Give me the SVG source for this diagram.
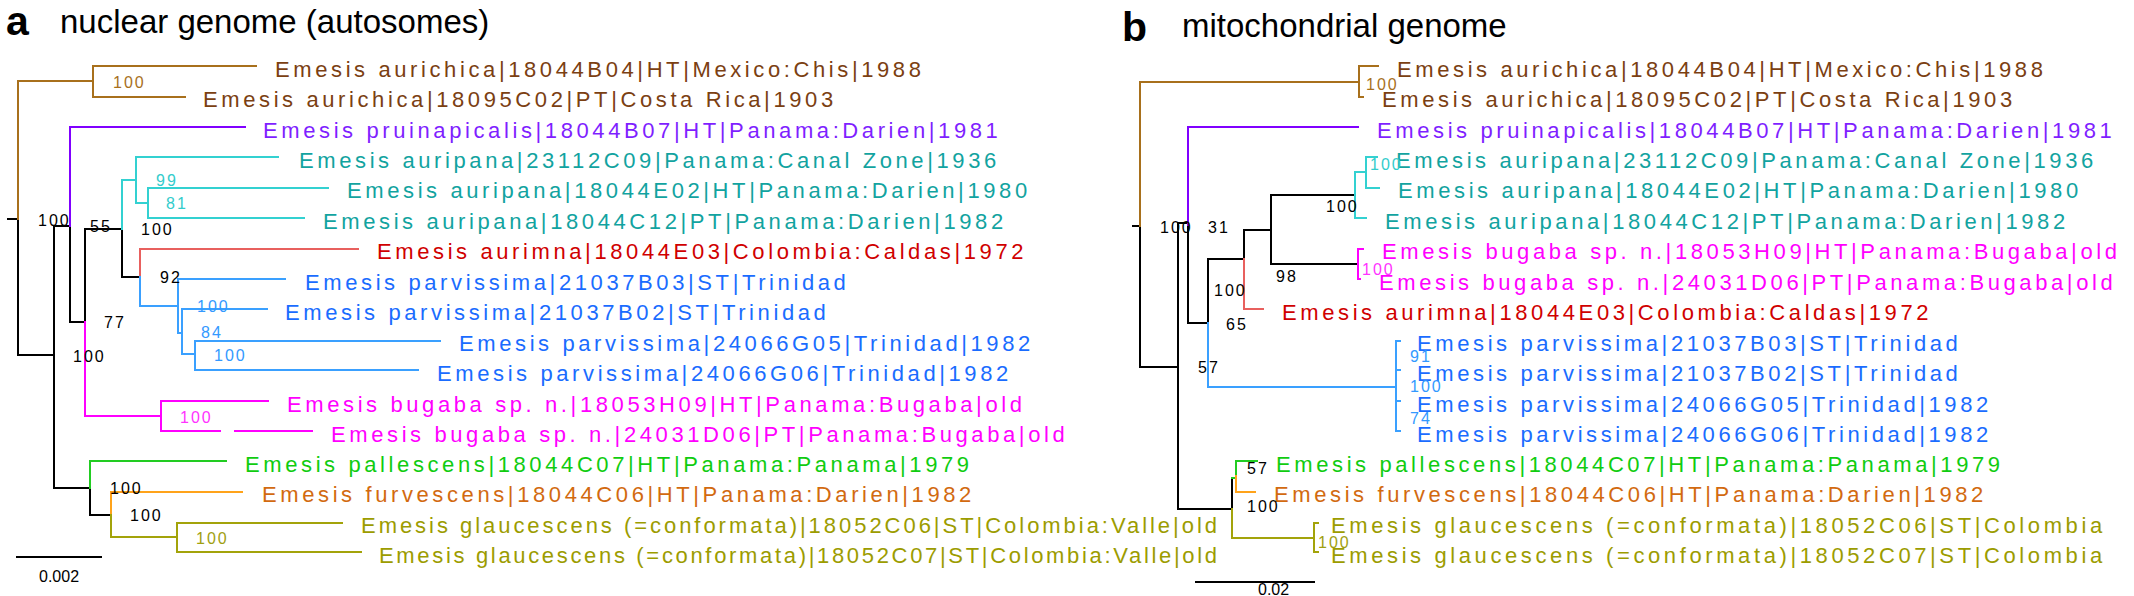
<svg xmlns="http://www.w3.org/2000/svg" width="2134" height="596" viewBox="0 0 2134 596">
<style>
text{font-family:"Liberation Sans",Arial,sans-serif}
.lab{font-size:22px;letter-spacing:3.6px}
.num{font-size:16px;letter-spacing:2px}
.title{font-size:33px;fill:#000}
.big{font-size:41px;font-weight:bold;fill:#000}
.s{fill:none;stroke-width:2;stroke-linecap:square}
.k{stroke:#000}
.br{stroke:#A8701C}.pu{stroke:#8000FF}.cy{stroke:#33D1D1}.rd{stroke:#E8605E}.bl{stroke:#3AA0FF}.mg{stroke:#FF00FF}.gn{stroke:#22CC22}.or{stroke:#FFA31A}.ol{stroke:#A3A30A}
.tbr{fill:#7B4012}.tpu{fill:#7F1FFF}.ttl{fill:#12A3A0}.trd{fill:#D00000}.tbl{fill:#1A6CFF}.tmg{fill:#FF00FF}.tgn{fill:#10CC10}.tor{fill:#D26A10}.tol{fill:#9C9C00}
.nk{fill:#000}.nbr{fill:#A8701C}.ncy{fill:#33CCCC}.nbl{fill:#3399FF}.nmg{fill:#FF33FF}.nol{fill:#A0A010}
</style>
<text class="big" x="6" y="35">a</text>
<text class="title" x="60" y="33">nuclear genome (autosomes)</text>
<text class="big" x="1122" y="41">b</text>
<text class="title" x="1182" y="37">mitochondrial genome</text>
<g id="connectors-a">
<path class="s k" d="M8,219H18V355H54M54,226V488M54,226H70V322M70,322H85V229M85,229H122V277H140M54,488H90V515H111"/>
<path class="s br" d="M18,219V81H93M93,66V97M93,66H256M93,97H185"/>
<path class="s pu" d="M70,226V127H245"/>
<path class="s cy" d="M122,229V180H136M136,157V203M136,157H278M136,203H148M148,188V218M148,188H328M148,218H304"/>
<path class="s rd" d="M140,277V249H358"/>
<path class="s bl" d="M140,277V306H178M178,279V333M178,279H285M178,333H182M182,309V354M182,309H267M182,354H195M195,341V370M195,341H440M195,370H418"/>
<path class="s mg" d="M85,322V416H161M161,401V431M161,401H268M161,431H220M235,431H312"/>
<path class="s gn" d="M90,488V461H226"/>
<path class="s or" d="M111,515V492H242"/>
<path class="s ol" d="M111,515V537H177M177,523V552M177,523H342M177,552H361"/>
<path class="s k" d="M17,557H101"/>
</g>
<g id="connectors-b">
<path class="s k" d="M1133,226H1140V367H1178M1178,223V509M1178,223H1188M1188,225V323H1208V259M1208,259H1244M1244,230V259M1244,230H1271M1271,195V264M1271,195H1355M1271,264H1358M1178,509H1232V478"/>
<path class="s br" d="M1140,226V82H1359M1359,66V97M1359,66H1378M1359,97H1363"/>
<path class="s pu" d="M1188,225V127H1358"/>
<path class="s cy" d="M1355,172V218M1355,172H1366M1355,218H1366M1366,157V188M1366,157H1377M1366,188H1379"/>
<path class="s rd" d="M1244,259V309H1263"/>
<path class="s mg" d="M1358,249V279M1358,249H1363M1358,279H1360"/>
<path class="s bl" d="M1208,323V387H1396M1396,341V431M1396,341H1400M1396,370H1400M1396,401H1400M1396,431H1400"/>
<path class="s gn" d="M1232,478H1236V461H1257"/>
<path class="s or" d="M1236,476V492H1255"/>
<path class="s ol" d="M1232,509V538H1314M1314,523V552M1314,523H1318M1314,552H1318"/>
<path class="s k" d="M1196,582H1314"/>
</g>
<g id="labels-a">
<text class="lab tbr" x="275" y="77">Emesis aurichica|18044B04|HT|Mexico:Chis|1988</text>
<text class="lab tbr" x="203" y="107">Emesis aurichica|18095C02|PT|Costa Rica|1903</text>
<text class="lab tpu" x="263" y="138">Emesis pruinapicalis|18044B07|HT|Panama:Darien|1981</text>
<text class="lab ttl" x="299" y="168">Emesis auripana|23112C09|Panama:Canal Zone|1936</text>
<text class="lab ttl" x="347" y="198">Emesis auripana|18044E02|HT|Panama:Darien|1980</text>
<text class="lab ttl" x="323" y="229">Emesis auripana|18044C12|PT|Panama:Darien|1982</text>
<text class="lab trd" x="377" y="259">Emesis aurimna|18044E03|Colombia:Caldas|1972</text>
<text class="lab tbl" x="305" y="290">Emesis parvissima|21037B03|ST|Trinidad</text>
<text class="lab tbl" x="285" y="320">Emesis parvissima|21037B02|ST|Trinidad</text>
<text class="lab tbl" x="459" y="351">Emesis parvissima|24066G05|Trinidad|1982</text>
<text class="lab tbl" x="437" y="381">Emesis parvissima|24066G06|Trinidad|1982</text>
<text class="lab tmg" x="287" y="412">Emesis bugaba sp. n.|18053H09|HT|Panama:Bugaba|old</text>
<text class="lab tmg" x="331" y="442">Emesis bugaba sp. n.|24031D06|PT|Panama:Bugaba|old</text>
<text class="lab tgn" x="245" y="472">Emesis pallescens|18044C07|HT|Panama:Panama|1979</text>
<text class="lab tor" x="262" y="502">Emesis furvescens|18044C06|HT|Panama:Darien|1982</text>
<text class="lab tol" x="361" y="533" style="letter-spacing:0" textLength="856" lengthAdjust="spacing">Emesis glaucescens (=conformata)|18052C06|ST|Colombia:Valle|old</text>
<text class="lab tol" x="379" y="563" style="letter-spacing:0" textLength="838" lengthAdjust="spacing">Emesis glaucescens (=conformata)|18052C07|ST|Colombia:Valle|old</text>
</g>
<g id="support-a">
<text class="num nbr" x="113" y="88">100</text>
<text class="num ncy" x="156" y="186">99</text>
<text class="num ncy" x="166" y="209">81</text>
<text class="num nk" x="38" y="226">100</text>
<text class="num nk" x="90" y="232">55</text>
<text class="num nk" x="141" y="235">100</text>
<text class="num nk" x="160" y="283">92</text>
<text class="num nbl" x="197" y="312">100</text>
<text class="num nk" x="104" y="328">77</text>
<text class="num nbl" x="201" y="338">84</text>
<text class="num nk" x="73" y="362">100</text>
<text class="num nbl" x="214" y="361">100</text>
<text class="num nmg" x="180" y="423">100</text>
<text class="num nk" x="110" y="494">100</text>
<text class="num nk" x="130" y="521">100</text>
<text class="num nol" x="196" y="544">100</text>
<text class="num nk" x="39" y="582" style="letter-spacing:0">0.002</text>
</g>
<g id="labels-b">
<text class="lab tbr" x="1397" y="77">Emesis aurichica|18044B04|HT|Mexico:Chis|1988</text>
<text class="lab tbr" x="1382" y="107">Emesis aurichica|18095C02|PT|Costa Rica|1903</text>
<text class="lab tpu" x="1377" y="138">Emesis pruinapicalis|18044B07|HT|Panama:Darien|1981</text>
<text class="lab ttl" x="1396" y="168">Emesis auripana|23112C09|Panama:Canal Zone|1936</text>
<text class="lab ttl" x="1398" y="198">Emesis auripana|18044E02|HT|Panama:Darien|1980</text>
<text class="lab ttl" x="1385" y="229">Emesis auripana|18044C12|PT|Panama:Darien|1982</text>
<text class="lab tmg" x="1382" y="259">Emesis bugaba sp. n.|18053H09|HT|Panama:Bugaba|old</text>
<text class="lab tmg" x="1379" y="290">Emesis bugaba sp. n.|24031D06|PT|Panama:Bugaba|old</text>
<text class="lab trd" x="1282" y="320">Emesis aurimna|18044E03|Colombia:Caldas|1972</text>
<text class="lab tbl" x="1417" y="351">Emesis parvissima|21037B03|ST|Trinidad</text>
<text class="lab tbl" x="1417" y="381">Emesis parvissima|21037B02|ST|Trinidad</text>
<text class="lab tbl" x="1417" y="412">Emesis parvissima|24066G05|Trinidad|1982</text>
<text class="lab tbl" x="1417" y="442">Emesis parvissima|24066G06|Trinidad|1982</text>
<text class="lab tgn" x="1276" y="472">Emesis pallescens|18044C07|HT|Panama:Panama|1979</text>
<text class="lab tor" x="1274" y="502">Emesis furvescens|18044C06|HT|Panama:Darien|1982</text>
<text class="lab tol" x="1331" y="533">Emesis glaucescens (=conformata)|18052C06|ST|Colombia</text>
<text class="lab tol" x="1331" y="563">Emesis glaucescens (=conformata)|18052C07|ST|Colombia</text>
</g>
<g id="support-b">
<text class="num nbr" x="1366" y="90">100</text>
<text class="num nk" x="1160" y="233">100</text>
<text class="num nk" x="1208" y="233">31</text>
<text class="num nk" x="1226" y="330">65</text>
<text class="num nk" x="1198" y="373">57</text>
<text class="num ncy" x="1370" y="170">100</text>
<text class="num nk" x="1326" y="212">100</text>
<text class="num nk" x="1276" y="282">98</text>
<text class="num nk" x="1214" y="296">100</text>
<text class="num nmg" x="1362" y="275">100</text>
<text class="num nbl" x="1410" y="362">91</text>
<text class="num nbl" x="1410" y="392">100</text>
<text class="num nbl" x="1410" y="424">74</text>
<text class="num nk" x="1247" y="474">57</text>
<text class="num nk" x="1247" y="512">100</text>
<text class="num nol" x="1318" y="548">100</text>
<text class="num nk" x="1258" y="595" style="letter-spacing:0">0.02</text>
</g>
</svg>
